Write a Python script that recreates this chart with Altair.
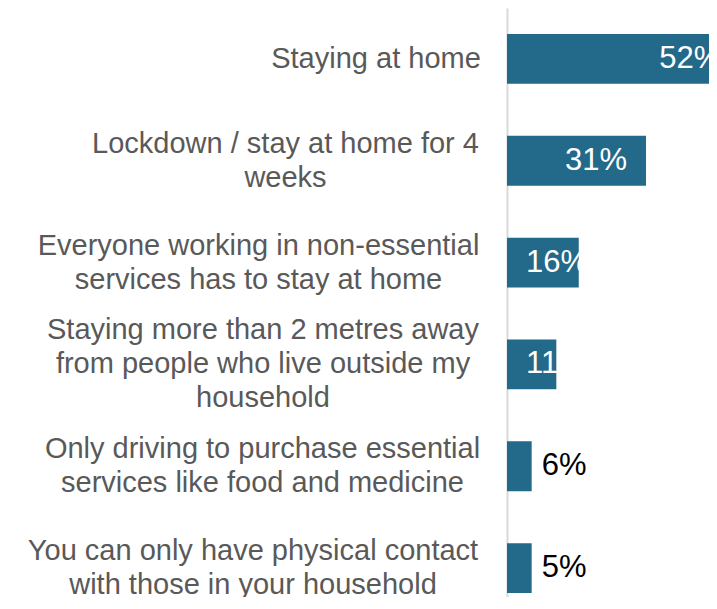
import altair as alt
import pandas as pd

categories = [
    "Staying at home",
    "Lockdown / stay at home for 4|weeks",
    "Everyone working in non-essential|services has to stay at home",
    "Staying more than 2 metres away|from people who live outside my|household",
    "Only driving to purchase essential|services like food and medicine",
    "You can only have physical contact|with those in your household",
]
values = [52, 31, 16, 11, 5.5, 5.5]
value_labels = ["52%", "31%", "16%", "11%", "6%", "5%"]

df = pd.DataFrame({"category": categories, "value": values, "label": value_labels})

LINE_H = 34
# distance from the axis line to the centre of each (centred, multi-line) label block
label_centre_gap = [131.5, 222, 249, 244.5, 245, 254.5]
pad_cond = [{"test": f"datum.value === '{c}'", "value": g}
            for c, g in zip(categories, label_centre_gap)]
# shift multi-line blocks up so the block (not its first line) is centred on the bar
off_cond = [{"test": f"datum.value === '{c}'", "value": -(c.count('|')) * LINE_H / 2}
            for c in categories if '|' in c]

FONT = "Liberation Sans"
BAR = "#23698A"

y_enc = alt.Y(
    "category:N", sort=categories, title=None,
    scale=alt.Scale(range=[0, 611], paddingInner=0.51, paddingOuter=0.255),
    axis=alt.Axis(
        domainColor="#d9d9d9", domainWidth=2, ticks=False, tickSize=0, grid=False,
        labelAlign="center", labelBaseline="middle", labelFont=FONT,
        labelFontSize=29, labelColor="#595959", labelLimit=0, labelLineHeight=LINE_H,
        labelExpr="split(datum.value, '|')",
        labelPadding={"condition": pad_cond, "value": 245},
        labelOffset={"condition": off_cond, "value": 0},
    ),
)
y_plain = alt.Y("category:N", sort=categories, title=None)
x_enc = alt.X("value:Q", axis=None,
              scale=alt.Scale(domain=[0, 52], range=[0, 233.2], nice=False))

base = alt.Chart(df)

bars = base.mark_bar(color=BAR).encode(x=x_enc, y=y_enc)

inside_end = base.transform_filter("datum.value >= 25").mark_text(
    align="right", baseline="middle", dx=-19, color="white", font=FONT, fontSize=31
).encode(x=alt.X("value:Q"), y=y_plain, text="label:N")

inside_base = base.transform_filter("datum.value >= 10 && datum.value < 25").mark_text(
    align="left", baseline="middle", dx=19, color="white", font=FONT, fontSize=31
).encode(x=alt.datum(0), y=y_plain, text="label:N")

outside = base.transform_filter("datum.value < 10").mark_text(
    align="left", baseline="middle", dx=10, color="#000000", font=FONT, fontSize=31
).encode(x=alt.X("value:Q"), y=y_plain, text="label:N")

chart = alt.layer(bars, inside_end, inside_base, outside).properties(
    width=202, height=589,
    autosize=alt.AutoSizeParams(type="none"),
    padding={"left": 499, "top": 0, "right": 0, "bottom": 0},
).configure_view(stroke=None)

chart.save("out.html", embed_options={"renderer": "svg", "actions": False})
